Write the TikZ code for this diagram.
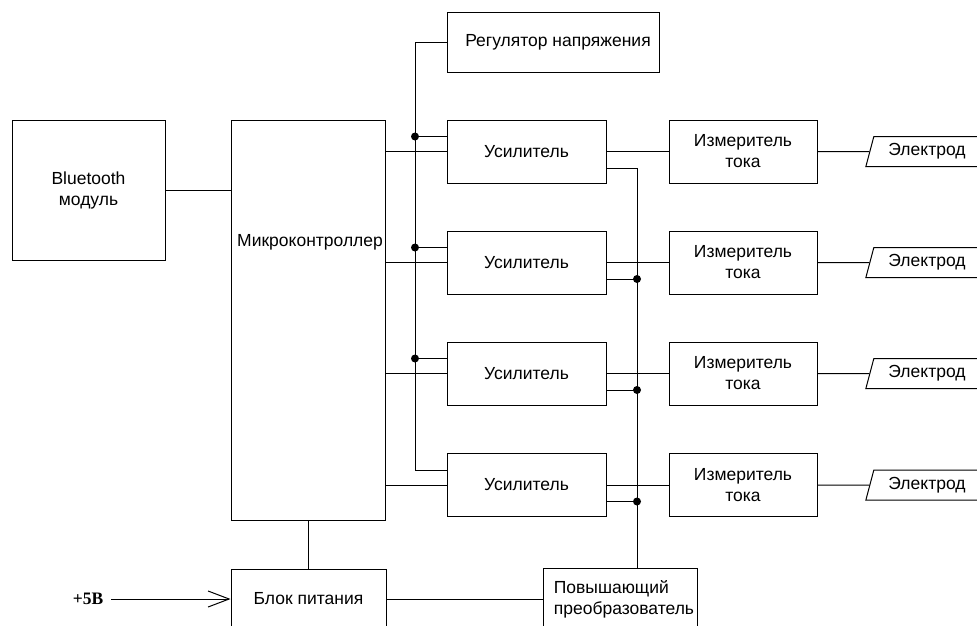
\documentclass[tikz,border=0pt]{standalone}
\usepackage{fontspec}
\setmainfont{Liberation Sans}
\newfontfamily\serifbold{Liberation Serif}
\usetikzlibrary{arrows.meta,shapes.geometric}
\begin{document}
\begin{tikzpicture}[x=1pt,y=-1pt,
  every node/.style={font=\fontsize{17.5}{21}\selectfont},
  blk/.style={draw,line width=1pt,inner sep=0pt},
  ampbox/.style={blk,minimum width=159pt,minimum height=63pt},
  measbox/.style={blk,minimum width=148pt,minimum height=63pt,align=center},
  elec/.style={draw,line width=1pt,trapezium,trapezium left angle=70,trapezium right angle=90,
     trapezium stretches=true,minimum width=115pt,minimum height=30pt,inner sep=0pt},
  wire/.style={line width=1pt},
  dotc/.style={fill=black,circle,inner sep=0pt,minimum size=8pt}]
\useasboundingbox (0,0) rectangle (977,625);
\clip (0,0) rectangle (977,625);
% blocks
\node[blk,minimum width=153pt,minimum height=140pt,align=center] (bt) at (88.5,190) {Bluetooth\\модуль};
\node[blk,minimum width=154pt,minimum height=400pt] (mc) at (308,320) {};
\node[anchor=west,inner sep=0pt] (mctext) at (237,242) {Микроконтроллер};
\node[blk,minimum width=212pt,minimum height=60pt] (reg) at (553,42) {\hspace{10pt}Регулятор напряжения};
\foreach \i/\y in {1/151.5,2/262.5,3/373.5,4/485}{
  \node[ampbox] (amp\i) at (526.5,\y) {Усилитель\hspace{10pt}};
  \node[measbox] (iz\i) at (743,\y) {Измеритель\\тока};
  \node[elec] (el\i) at (927,\y) {Электрод};
}
\node[blk,minimum width=155pt,minimum height=60pt] (bp) at (308.5,599) {Блок питания};
\node[blk,minimum width=154pt,minimum height=62pt,align=left] (pov) at (620,599) {\hspace{8pt}Повышающий\\\hspace{8pt}преобразователь};
\node[inner sep=0pt] (p5) at (88,599) {\serifbold\bfseries +5В};
\coordinate (p5s) at (111,599);
\coordinate (busx) at (415,0);
\coordinate (rbx) at (637,0);
% connections
\draw[wire] (bt.east) -- (bt.east -| mc.west);
\draw[wire] (mc.south) -- (mc.south |- bp.north);
\draw[wire,-{Straight Barb[length=21pt,width=16pt,line width=1pt]}] (p5s) -- (bp.west);
\draw[wire] (bp.east) -- (bp.east -| pov.west);
\foreach \i in {1,2,3,4}{
  \coordinate (in\i) at ([yshift=15pt]amp\i.west);
  \coordinate (out\i) at ([yshift=-16.5pt]amp\i.east);
  \draw[wire] (amp\i.west -| mc.east) -- (amp\i.west);
  \draw[wire] (in\i -| busx) -- (in\i);
  \draw[wire] (amp\i.east) -- (iz\i.west);
  \draw[wire] (out\i) -- (out\i -| rbx);
  \draw[wire] (iz\i.east) -- (el\i.west);
}
\draw[wire] (reg.west) -- (reg.west -| busx) -- (in4 -| busx);
\draw[wire] (out1 -| rbx) -- (rbx |- pov.north);
\foreach \i in {1,2,3}{
  \node[dotc] (bd\i) at (in\i -| busx) {};
}
\foreach \i in {2,3,4}{
  \node[dotc] (rd\i) at (out\i -| rbx) {};
}
\end{tikzpicture}
\end{document}
